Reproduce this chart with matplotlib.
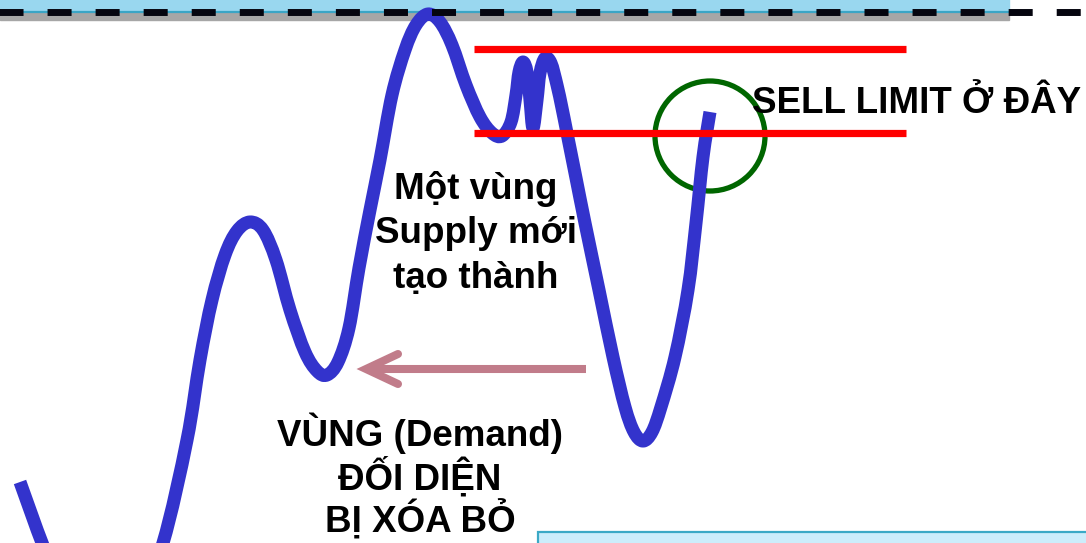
import matplotlib.pyplot as plt
from matplotlib.patches import Rectangle, Circle, PathPatch
from matplotlib.path import Path

# price path in pixel units (x right, y down)
path_x = [20, 44, 70, 100, 135, 163, 187, 200, 212, 225, 237, 250, 263, 276, 290, 305, 317,
          327, 338, 349, 359, 370, 380, 392, 405, 416, 428, 440, 452, 466, 480, 492, 502,
          511, 516, 519, 523, 527, 530, 533, 537, 540, 545, 551, 557, 562, 567, 576, 585,
          599, 613, 625, 634, 643, 652, 661, 675, 688, 696, 703, 710]
path_y = [482, 548, 610, 640, 615, 543, 440, 360, 300, 255, 231, 222, 230, 260, 310, 352, 371,
          375, 362, 328, 268, 210, 160, 95, 50, 25, 14, 22, 45, 85, 117, 133, 136,
          122, 95, 72, 62, 72, 100, 128, 100, 73, 58, 63, 85, 108, 133, 178, 223,
          290, 357, 407, 432, 441, 432, 407, 357, 290, 223, 157, 112]

supply_top = 49
supply_bottom = 133
supply_x = [474, 906]

arrow_from = (586, 369)
arrow_to = (366, 369)

zone_text = ['Một vùng', 'Supply mới', 'tạo thành']
zone_base = [199, 243, 288]
demand_text = ['VÙNG (Demand)', 'ĐỐI DIỆN', 'BỊ XÓA BỎ']
demand_base = [446, 490, 533]
sell_text = 'SELL LIMIT Ở ĐÂY'

fonts = ['Liberation Sans', 'DejaVu Sans']

fig = plt.figure(figsize=(10.86, 5.43), dpi=100)
ax = fig.add_axes([0, 0, 1, 1])
ax.set_xlim(0, 1086)
ax.set_ylim(543, 0)
ax.axis('off')

# header strip at the top
ax.add_patch(Rectangle((0, -5), 1009, 16, color='#99D7EF', zorder=1))
ax.add_patch(Rectangle((0, 12), 1009, 8, color='#A6A6A6', zorder=1))
ax.plot([0, 1009], [11.5, 11.5], color='#3BA5C5', lw=1.6, zorder=1)
plt.rcParams['lines.scale_dashes'] = False
ax.plot([-6, 1090], [12, 12], color='#05050F', lw=5.0,
        linestyle=(0, (17.3, 17.3)), solid_capstyle='butt', dash_capstyle='butt', zorder=5)

# bottom-right box
ax.add_patch(Rectangle((538, 532), 560, 40, facecolor='#CCEDFB', edgecolor='#3BA9C6', lw=1.6, zorder=1))

# green circle
ax.add_patch(Circle((710, 136), 55, fill=False, edgecolor='#006600', lw=3.8, zorder=2))

# price path, smoothed through the points (catmull-rom as bezier)
pts = list(zip(path_x, path_y))
verts = [pts[0]]
codes = [Path.MOVETO]
n = len(pts)
for i in range(n - 1):
    p0 = pts[max(i - 1, 0)]
    p1 = pts[i]
    p2 = pts[i + 1]
    p3 = pts[min(i + 2, n - 1)]
    c1 = (p1[0] + (p2[0] - p0[0]) / 6, p1[1] + (p2[1] - p0[1]) / 6)
    c2 = (p2[0] - (p3[0] - p1[0]) / 6, p2[1] - (p3[1] - p1[1]) / 6)
    verts += [c1, c2, p2]
    codes += [Path.CURVE4] * 3
ax.add_patch(PathPatch(Path(verts, codes), fill=False, edgecolor='#3333CC', lw=9.4,
                       capstyle='butt', joinstyle='round', zorder=3))

# supply zone lines
ax.plot(supply_x, [supply_top, supply_top], color='#FF0000', lw=5.2, solid_capstyle='butt', zorder=4)
ax.plot(supply_x, [supply_bottom, supply_bottom], color='#FF0000', lw=5.2, solid_capstyle='butt', zorder=4)

# arrow back to the demand zone
arrow_col = '#C17C8A'
ax.plot([arrow_from[0], arrow_to[0] + 4], [arrow_from[1], arrow_to[1]], color=arrow_col, lw=5.8,
        solid_capstyle='butt', zorder=4)
ax.plot([398, arrow_to[0], 398], [354, arrow_to[1], 384], color=arrow_col, lw=5.8,
        solid_capstyle='round', solid_joinstyle='miter', zorder=4)

for t, b in zip(zone_text, zone_base):
    ax.text(476, b, t, ha='center', va='baseline', fontsize=26.5, fontweight='bold',
            family=fonts, zorder=6)
for t, b in zip(demand_text, demand_base):
    ax.text(420, b, t, ha='center', va='baseline', fontsize=26.5, fontweight='bold',
            family=fonts, zorder=6)
ax.text(752, 113, sell_text, ha='left', va='baseline', fontsize=26.5, fontweight='bold',
        family=fonts, zorder=6)

fig.savefig('out.png', dpi=100)
